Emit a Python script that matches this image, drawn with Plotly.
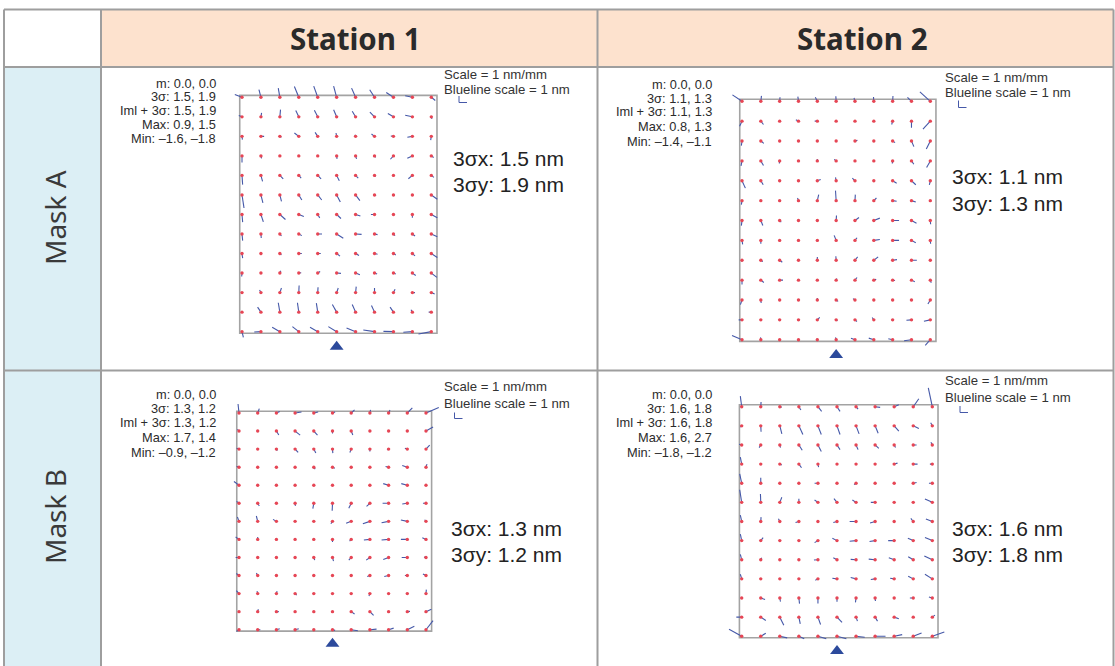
import plotly.graph_objects as go

W, H = 1115, 666

# ---- measurement grid on the mask (mm) ----
grid_x = [-50, -40, -30, -20, -10, 0, 10, 20, 30, 40, 50]
grid_y = [60, 50, 40, 30, 20, 10, 0, -10, -20, -30, -40, -50, -60]   # top row first

# ---- residual overlay vectors (nm), one row per grid row, top row first ----
st1_mask_a_dx = [
    [-0.9, -0.25, -0.2, -0.55, -0.5, -0.38, -0.5, -0.6, -0.9, -0.9, 0.5],
    [-0.4, 0.08, 0.08, -0.38, -0.42, -0.38, -0.42, -0.58, -0.7, -0.9, 0.08],
    [0.05, 0.4, 0.2, -0.55, -0.33, -0.08, -0.08, -0.38, -0.33, -0.63, -0.08],
    [0.0, 0.08, 0.1, 0.05, 0.0, 0.05, 0.12, 0.12, -0.38, -0.63, 0.3],
    [0.08, 0.2, 0.42, 0.3, 0.42, 0.33, 0.33, 0.12, 0.05, -0.5, 0.33],
    [0.25, 0.25, 0.2, 0.38, 0.5, 0.46, 0.54, 0.2, 0.12, 0.0, 0.75],
    [0.08, 0.3, 0.7, 0.63, 0.25, 0.54, 0.6, -0.45, 0.1, 0.0, 0.75],
    [0.08, 0.04, 0.2, 0.38, 0.54, 0.83, 0.75, 0.38, 0.2, 0.33, 0.75],
    [0.08, 0.05, 0.2, 0.38, 0.38, 0.42, 0.42, 0.38, 0.3, 0.33, 0.75],
    [-0.04, 0.05, 0.12, 0.3, 0.3, 0.54, 0.54, 0.33, 0.3, 0.42, 0.7],
    [-0.05, -0.17, 0.2, 0.04, 0.04, 0.2, 0.08, 0.0, 0.2, 0.33, 0.42],
    [0.05, -0.42, -0.2, -0.17, -0.17, -0.54, -0.42, -0.38, -0.42, -0.17, -0.33],
    [0.17, -0.83, -0.96, -0.8, -0.96, -1.04, -1.13, -1.4, -1.25, -1.13, -1.6],
]
st1_mask_a_dy = [
    [0.35, 0.95, 1.15, 1.35, 1.4, 1.4, 1.15, 0.95, 0.6, 0.2, -0.4],
    [0.17, 0.5, 0.9, 0.8, 0.83, 0.88, 0.7, 0.58, 0.42, 0.2, -0.25],
    [-0.4, 0.0, -0.1, 0.42, 0.5, 0.42, 0.2, 0.3, 0.04, -0.12, -0.46],
    [-0.83, -0.3, -0.1, 0.05, 0.0, -0.38, -0.38, -0.2, -0.42, -0.3, -0.2],
    [-1.15, -0.75, -0.42, -0.33, -0.42, -0.67, -0.33, -0.15, -0.05, -0.42, -0.25],
    [-1.63, -1.0, -0.8, -0.63, -0.63, -0.88, -0.7, -0.08, -0.12, 0.05, -0.54],
    [-0.96, -0.92, -0.63, -0.25, -0.42, -0.5, -0.2, 0.0, -0.1, -0.4, -0.42],
    [-0.83, -0.5, -0.25, -0.2, 0.0, -0.54, -0.04, -0.08, -0.2, -0.25, -0.33],
    [-0.58, -0.1, -0.17, 0.0, 0.0, -0.33, -0.25, -0.08, -0.17, -0.3, -0.5],
    [-0.42, -0.05, 0.3, 0.04, 0.2, -0.04, -0.2, -0.12, -0.12, -0.3, -0.54],
    [0.0, 0.33, 0.58, 0.88, 0.67, 0.58, 0.75, 0.58, 0.42, 0.0, -0.17],
    [0.05, 0.63, 1.17, 1.17, 1.13, 0.96, 0.96, 0.83, 0.63, 0.3, 0.0],
    [-0.7, -0.04, 0.54, 0.63, 0.54, 0.63, 0.46, 0.2, 0.04, -0.08, -0.3],
]

st2_mask_a_dx = [
    [-1.2, 0.08, 0.04, -0.08, -0.25, -0.04, -0.12, -0.04, 0.04, -0.5, -1.3],
    [-0.3, 0.33, 0.05, -0.33, -0.33, 0.0, 0.05, 0.0, -0.12, 0.0, -0.92],
    [-0.08, 0.38, 0.0, 0.05, 0.05, 0.0, 0.3, 0.05, 0.3, 0.3, -0.5],
    [-0.12, 0.33, -0.04, 0.05, 0.0, -0.25, 0.05, 0.0, -0.04, 0.3, -0.46],
    [0.42, 0.3, 0.05, 0.0, 0.42, -0.08, -0.33, 0.05, 0.5, 0.54, -0.12],
    [-0.08, 0.05, 0.0, -0.12, 0.17, -0.08, 0.04, 0.33, 0.5, 0.54, 0.05],
    [-0.08, 0.25, 0.2, 0.05, 0.0, 0.04, 0.5, 0.75, 0.8, 0.63, 0.04],
    [0.08, 0.0, 0.05, 0.0, 0.05, -0.25, 0.25, 0.75, 0.8, 0.54, 0.04],
    [-0.05, 0.25, 0.33, 0.05, 0.0, -0.04, 0.33, 0.54, 0.54, 0.67, 0.05],
    [0.0, 0.38, 0.42, 0.05, 0.05, 0.08, 0.25, 0.3, 0.3, 0.42, 0.12],
    [-0.2, 0.04, 0.05, 0.0, 0.0, 0.25, -0.25, 0.05, 0.0, 0.05, -0.3],
    [-0.42, 0.05, 0.05, 0.0, 0.3, 0.17, 0.25, -0.2, -0.1, -0.63, -0.8],
    [-1.25, -0.04, 0.05, 0.05, -0.12, -0.08, -0.5, -0.63, -0.54, -0.92, -0.63],
]
st2_mask_a_dy = [
    [0.8, 0.67, 0.5, 0.58, 0.5, 0.63, 0.42, 0.54, 0.67, 0.5, 1.17],
    [-0.63, -0.42, 0.0, 0.17, 0.0, 0.05, 0.0, 0.05, -0.42, -0.83, -1.0],
    [-0.58, -0.3, 0.05, 0.0, 0.05, 0.0, 0.08, 0.0, -0.2, -0.7, -1.0],
    [-0.63, -0.58, -0.33, 0.0, 0.25, 0.2, 0.0, 0.05, -0.33, -0.42, -0.83],
    [-0.92, -0.5, 0.0, 0.05, 0.17, 0.42, 0.33, 0.0, -0.3, -0.5, -0.5],
    [-0.5, 0.0, 0.05, 0.33, 0.75, 1.25, 0.75, 0.33, -0.08, -0.17, 0.0],
    [-0.63, -0.63, -0.2, 0.0, 0.2, 0.63, 0.38, 0.3, 0.0, -0.33, -0.46],
    [-0.5, -0.42, 0.0, 0.05, 0.0, 0.63, 0.33, 0.12, 0.0, -0.3, -0.42],
    [-0.15, -0.17, -0.25, 0.0, 0.42, 0.5, 0.42, 0.42, 0.08, 0.0, 0.0],
    [-0.54, -0.3, 0.0, 0.0, 0.05, 0.2, 0.33, 0.12, -0.04, -0.2, -0.33],
    [-0.58, -0.38, 0.0, 0.05, 0.25, -0.17, 0.17, 0.0, 0.05, 0.0, -0.5],
    [0.0, 0.05, 0.0, 0.05, 0.3, -0.12, -0.2, 0.3, -0.08, -0.04, -0.17],
    [0.54, 0.3, 0.0, 0.05, 0.12, 0.3, 0.2, 0.2, 0.12, -0.12, -0.7],
]

st1_mask_b_dx = [
    [-0.12, 0.2, 0.42, 0.8, 0.54, 0.33, 0.42, 0.08, 0.17, 0.63, 1.6],
    [-0.2, 0.05, 0.3, 0.63, 0.46, 0.0, 0.2, 0.05, 0.0, 0.05, 0.88],
    [-0.3, 0.05, 0.1, 0.38, 0.25, 0.04, -0.17, 0.0, -0.2, -0.3, 0.46],
    [-0.3, 0.05, 0.0, 0.05, 0.17, 0.3, 0.05, 0.0, -0.38, -0.63, 0.12],
    [-0.63, 0.05, 0.0, 0.05, 0.05, 0.0, 0.05, 0.0, -0.67, -0.75, 0.05],
    [-0.3, 0.2, 0.05, 0.04, -0.12, -0.04, -0.3, -0.42, -0.75, -0.63, -0.38],
    [-0.2, -0.17, -0.42, 0.05, 0.0, -0.2, -0.63, -0.88, -0.88, -0.8, -0.17],
    [-0.42, 0.0, 0.05, 0.0, 0.05, 0.0, -0.2, -0.75, -0.88, -0.8, -0.46],
    [-0.42, 0.05, 0.0, 0.05, 0.12, 0.12, -0.3, -0.46, -0.67, -0.7, -0.25],
    [-0.33, -0.17, 0.05, 0.0, 0.05, 0.0, -0.1, -0.33, -0.54, -0.3, -0.38],
    [-0.33, -0.08, 0.08, 0.2, 0.05, 0.0, 0.05, -0.12, 0.05, -0.1, 0.04],
    [0.05, 0.08, 0.3, 0.05, 0.0, 0.05, 0.42, 0.46, 0.05, 0.33, 0.67],
    [-0.3, 0.33, 0.42, 0.46, 0.1, 0.33, 0.83, 0.83, 0.63, 0.88, 0.88],
]
st1_mask_b_dy = [
    [1.13, 0.54, 0.2, 0.12, 0.12, 0.12, 0.38, 0.38, 0.38, 0.63, 0.7],
    [0.2, 0.0, -0.5, -0.5, -0.5, -0.3, -0.5, 0.0, 0.05, 0.0, 0.5],
    [0.12, 0.0, -0.2, -0.42, -0.5, -0.5, -0.42, -0.3, -0.08, 0.12, 0.5],
    [0.12, 0.0, 0.05, 0.0, -0.25, -0.12, 0.0, 0.05, 0.08, 0.2, 0.38],
    [0.46, 0.0, 0.05, 0.0, 0.0, 0.05, 0.0, 0.05, 0.2, 0.2, 0.0],
    [0.25, -0.33, 0.0, -0.33, -0.67, -0.92, -0.63, -0.38, 0.0, -0.08, 0.0],
    [0.54, 0.67, 0.25, 0.0, 0.05, -0.3, -0.25, -0.3, -0.17, 0.17, 0.2],
    [0.3, 0.3, 0.0, 0.05, 0.0, -0.33, -0.2, -0.08, -0.08, 0.0, 0.2],
    [0.0, 0.0, 0.05, 0.0, -0.33, -0.46, -0.33, -0.33, -0.25, 0.0, 0.04],
    [0.25, 0.3, 0.0, 0.05, 0.0, 0.05, -0.1, -0.12, -0.12, 0.0, 0.2],
    [0.38, 0.3, 0.3, -0.2, 0.0, 0.05, 0.0, -0.3, 0.0, 0.1, 0.5],
    [0.0, 0.3, 0.0, 0.0, 0.05, 0.0, -0.3, -0.46, 0.0, 0.04, 0.3],
    [-0.2, 0.0, 0.12, 0.12, 0.05, -0.08, -0.12, 0.08, 0.2, 0.42, 1.13],
]

st2_mask_b_dx = [
    [-0.17, 0.04, 0.25, 0.25, 0.46, 0.38, 0.25, 0.63, 0.58, 0.7, -0.5],
    [-0.17, 0.04, 0.25, 0.5, 0.42, 0.38, 0.38, 0.38, 0.58, 0.7, -0.2],
    [-0.33, -0.2, 0.08, 0.42, 0.42, 0.38, 0.25, 0.46, 0.17, 0.42, -0.17],
    [-0.17, 0.05, 0.25, 0.33, 0.08, 0.05, 0.0, 0.05, 0.42, 0.54, -0.3],
    [-0.25, 0.0, 0.05, 0.0, -0.42, 0.05, -0.25, 0.05, 0.0, 0.42, -0.42],
    [-0.25, -0.04, 0.25, 0.0, -0.42, -0.38, -0.46, -0.54, 0.05, 0.05, -0.92],
    [-0.17, 0.04, -0.17, -0.42, 0.05, -0.46, -0.8, -0.63, 0.05, -0.3, -0.8],
    [-0.17, 0.3, 0.05, -0.05, -0.42, -0.58, -0.8, -0.7, -0.75, -0.67, -0.92],
    [-0.17, 0.12, 0.05, 0.0, -0.5, -0.46, -0.67, -0.8, -0.67, -0.63, -1.0],
    [-0.17, 0.05, 0.0, 0.05, -0.33, -0.58, -0.67, -0.54, -0.5, -0.63, -0.92],
    [0.05, 0.54, 0.08, 0.08, 0.0, 0.0, -0.08, 0.04, 0.05, -0.42, -0.42],
    [-0.67, 0.63, 0.5, 0.17, 0.33, 0.63, 0.17, 0.3, 0.58, 0.05, 0.33],
    [-1.58, 0.63, 0.92, 0.67, 1.04, 1.17, 1.08, 1.3, 1.0, 1.04, 1.5],
]
st2_mask_b_dy = [
    [1.33, 0.58, -0.08, -0.42, -0.58, -0.58, -0.3, -0.08, 0.25, 1.0, 2.35],
    [-0.17, -0.75, -1.0, -1.08, -1.08, -1.08, -1.0, -0.92, -0.67, -0.33, 0.38],
    [0.08, -0.33, -0.33, -0.67, -0.83, -0.58, -0.58, -0.42, -0.33, 0.0, 0.33],
    [0.88, 0.0, -0.12, -0.46, -0.38, 0.0, 0.05, 0.0, 0.12, 0.0, 0.0],
    [1.17, 0.67, 0.0, 0.05, 0.0, 0.0, -0.17, 0.0, 0.05, 0.08, 0.0],
    [1.58, 1.04, 0.63, 0.46, 0.3, 0.46, 0.3, 0.0, 0.0, 0.0, 0.42],
    [0.8, 0.54, 0.33, -0.12, 0.0, -0.12, 0.0, -0.2, 0.0, 0.38, 0.3],
    [0.8, 0.38, 0.0, -0.1, -0.25, 0.3, -0.08, -0.12, 0.0, 0.3, 0.38],
    [0.67, 0.25, 0.0, 0.05, -0.04, 0.25, 0.04, 0.08, 0.25, 0.38, 0.46],
    [0.58, 0.0, 0.05, 0.0, -0.17, 0.08, 0.17, -0.08, 0.08, 0.33, 0.58],
    [0.0, -0.2, -0.46, -0.7, -0.7, -0.46, -0.54, -0.38, 0.0, 0.0, 0.12],
    [0.0, -0.42, -1.0, -0.83, -0.92, -0.67, -0.5, -0.5, -0.2, 0.0, 0.25],
    [0.88, 0.38, -0.2, -0.3, -0.3, -0.3, -0.12, 0.0, 0.2, 0.42, 0.54],
]

# ---- summary statistics printed beside each map ----
st1_mask_a_stats = ["m: 0.0, 0.0", "3σ: 1.5, 1.9", "Iml + 3σ: 1.5, 1.9", "Max: 0.9, 1.5", "Min: –1.6, –1.8"]
st2_mask_a_stats = ["m: 0.0, 0.0", "3σ: 1.1, 1.3", "Iml + 3σ: 1.1, 1.3", "Max: 0.8, 1.3", "Min: –1.4, –1.1"]
st1_mask_b_stats = ["m: 0.0, 0.0", "3σ: 1.3, 1.2", "Iml + 3σ: 1.3, 1.2", "Max: 1.7, 1.4", "Min: –0.9, –1.2"]
st2_mask_b_stats = ["m: 0.0, 0.0", "3σ: 1.6, 1.8", "Iml + 3σ: 1.6, 1.8", "Max: 1.6, 2.7", "Min: –1.8, –1.2"]

three_sigma_x = [1.5, 1.1, 1.3, 1.6]
three_sigma_y = [1.9, 1.3, 1.2, 1.8]

stations = ["Station 1", "Station 2"]
masks = ["Mask A", "Mask B"]
scale_labels = ["Scale = 1 nm/mm", "Blueline scale = 1 nm"]

# ---- styling ----
BLUE = "#4558A8"
RED = "#E64655"
TRI = "#2C4A9C"
GRID_GRAY = "#9E9E9E"
PEACH = "#FDE2CE"
LIGHT_BLUE = "#DCEFF5"
PX_PER_NM = 8.0          # drawn length of 1 nm residual

def fx(p):
    return p / W

def fy(p):
    return 1 - p / H

# placement of each map: pixel of first column / top row and pixels per mm
panels = [
    dict(dx=st1_mask_a_dx, dy=st1_mask_a_dy, stats=st1_mask_a_stats,
         x0=242.0, sx=1.893, y0=97.3, sy=1.953,
         stat_r=217, stat_y=[83, 96.8, 110.6, 124.4, 138.2],
         sig_x=452, sig_y=[158, 184], sc_x=443, sc_y=[75, 89], L=(459, 96, 102.5)),
    dict(dx=st2_mask_a_dx, dy=st2_mask_a_dy, stats=st2_mask_a_stats,
         x0=742.0, sx=1.883, y0=101.3, sy=1.987,
         stat_r=713, stat_y=[84, 98, 112, 126.5, 141],
         sig_x=951, sig_y=[177, 203], sc_x=944, sc_y=[77, 92.5], L=(958.5, 100.5, 107.5)),
    dict(dx=st1_mask_b_dx, dy=st1_mask_b_dy, stats=st1_mask_b_stats,
         x0=239.0, sx=1.870, y0=413.0, sy=1.806,
         stat_r=217, stat_y=[394, 408.5, 423, 437.5, 452],
         sig_x=450, sig_y=[528, 554], sc_x=443, sc_y=[387, 403], L=(454.5, 412.5, 418.5)),
    dict(dx=st2_mask_b_dx, dy=st2_mask_b_dy, stats=st2_mask_b_stats,
         x0=741.7, sx=1.906, y0=406.7, sy=1.913,
         stat_r=713, stat_y=[394, 408.5, 423, 437.5, 452],
         sig_x=951, sig_y=[528, 554], sc_x=944, sc_y=[380, 397], L=(960, 406, 412.5)),
]

XR = (-62, 62)
YR = (-72, 72)

fig = go.Figure()
layout_axes = {}
shapes = []
annotations = []

# ---- table background and borders ----
TOP, HDR, MID, BOT = 9.5, 67, 370.5, 700
LEFT, C1, C2, RIGHT = 4, 101, 597.5, 1113.5
shapes += [
    dict(type="rect", xref="paper", yref="paper", x0=fx(C1), x1=fx(RIGHT), y0=fy(HDR), y1=fy(TOP),
         fillcolor=PEACH, line=dict(width=0), layer="below"),
    dict(type="rect", xref="paper", yref="paper", x0=fx(LEFT), x1=fx(C1), y0=fy(BOT), y1=fy(HDR),
         fillcolor=LIGHT_BLUE, line=dict(width=0), layer="below"),
]
for yy in (TOP, HDR, MID):
    shapes.append(dict(type="line", xref="paper", yref="paper", x0=fx(LEFT), x1=fx(RIGHT),
                       y0=fy(yy), y1=fy(yy), line=dict(color=GRID_GRAY, width=2), layer="below"))
for xx in (LEFT, C1, C2, RIGHT):
    shapes.append(dict(type="line", xref="paper", yref="paper", x0=fx(xx), x1=fx(xx),
                       y0=fy(BOT), y1=fy(TOP), line=dict(color=GRID_GRAY, width=2), layer="below"))

header_font = dict(family="Noto Sans", size=29.5, color="#2A2A2A", weight="bold")
for name, cx in zip(stations, (355, 862)):
    annotations.append(dict(text=name, x=fx(cx), y=fy(39), xref="paper", yref="paper",
                            showarrow=False, xanchor="center", yanchor="middle", font=header_font))
for name, cy in zip(masks, (217, 516)):
    annotations.append(dict(text=name, x=fx(55), y=fy(cy), xref="paper", yref="paper", textangle=-90,
                            showarrow=False, xanchor="center", yanchor="middle",
                            font=dict(family="Noto Sans", size=28, color="#3A3A3A")))

# ---- vector maps ----
for i, p in enumerate(panels):
    n = "" if i == 0 else str(i + 1)
    xa, ya = "x" + n, "y" + n
    dom_x = [fx(p["x0"] + (XR[0] - grid_x[0]) * p["sx"]), fx(p["x0"] + (XR[1] - grid_x[0]) * p["sx"])]
    dom_y = [fy(p["y0"] + (grid_y[0] - YR[0]) * p["sy"]), fy(p["y0"] + (grid_y[0] - YR[1]) * p["sy"])]
    layout_axes["xaxis" + n] = dict(domain=dom_x, range=list(XR), visible=False, fixedrange=True,
                                    anchor=ya)
    layout_axes["yaxis" + n] = dict(domain=dom_y, range=list(YR), visible=False, fixedrange=True,
                                    anchor=xa)

    kx = PX_PER_NM / p["sx"]
    ky = PX_PER_NM / p["sy"]
    lx, ly, px_, py_ = [], [], [], []
    for r, gy in enumerate(grid_y):
        for c, gx in enumerate(grid_x):
            lx += [gx, gx + p["dx"][r][c] * kx, None]
            ly += [gy, gy + p["dy"][r][c] * ky, None]
            px_.append(gx)
            py_.append(gy)

    # frame around the exposure field
    shapes.append(dict(type="rect", xref=xa, yref=ya, x0=-51.2, x1=53.0, y0=-60.8, y1=61.0,
                       line=dict(color="#A3A3A3", width=1.6), layer="below"))

    fig.add_trace(go.Scatter(x=lx, y=ly, mode="lines", xaxis=xa, yaxis=ya,
                             line=dict(color=BLUE, width=1.1), hoverinfo="skip", showlegend=False))
    fig.add_trace(go.Scatter(x=px_, y=py_, mode="markers", xaxis=xa, yaxis=ya,
                             marker=dict(color=RED, size=3.4, line=dict(width=0)),
                             hoverinfo="skip", showlegend=False))
    fig.add_trace(go.Scatter(x=[0], y=[-67.7], mode="markers", xaxis=xa, yaxis=ya,
                             marker=dict(symbol="triangle-up", color=TRI, size=12, line=dict(width=0)),
                             hoverinfo="skip", showlegend=False))

    stat_font = dict(family="Liberation Sans", size=12.8, color="#2B2B2B")
    for line_txt, yy in zip(p["stats"], p["stat_y"]):
        annotations.append(dict(text=line_txt, x=fx(p["stat_r"]), y=fy(yy), xref="paper", yref="paper",
                                showarrow=False, xanchor="right", yanchor="middle", font=stat_font,
                                borderpad=0))
    sig_font = dict(family="Liberation Sans", size=21, color="#222222")
    sig_txt = [f"3σx: {three_sigma_x[i]} nm", f"3σy: {three_sigma_y[i]} nm"]
    for t, yy in zip(sig_txt, p["sig_y"]):
        annotations.append(dict(text=t, x=fx(p["sig_x"]), y=fy(yy), xref="paper", yref="paper",
                                showarrow=False, xanchor="left", yanchor="middle", font=sig_font,
                                borderpad=0))
    sc_font = dict(family="Liberation Sans", size=13.2, color="#333333")
    for t, yy in zip(scale_labels, p["sc_y"]):
        annotations.append(dict(text=t, x=fx(p["sc_x"]), y=fy(yy), xref="paper", yref="paper",
                                showarrow=False, xanchor="left", yanchor="middle", font=sc_font,
                                borderpad=0))
    # 1 nm blueline key
    Lx, Lt, Lb = p["L"]
    shapes.append(dict(type="path", xref="paper", yref="paper",
                       path=f"M {fx(Lx)} {fy(Lt)} L {fx(Lx)} {fy(Lb)} L {fx(Lx + PX_PER_NM)} {fy(Lb)}",
                       line=dict(color=BLUE, width=1)))

fig.update_layout(
    width=W, height=H,
    margin=dict(l=0, r=0, t=0, b=0),
    paper_bgcolor="white",
    plot_bgcolor="rgba(0,0,0,0)",
    shapes=shapes,
    annotations=annotations,
    showlegend=False,
    **layout_axes,
)

fig.write_html("out.html")
